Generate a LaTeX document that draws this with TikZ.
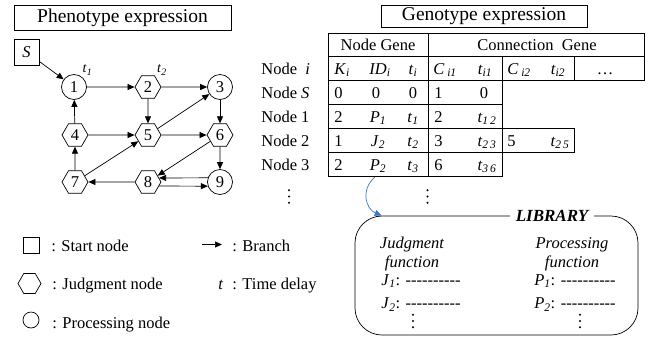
\documentclass[tikz,border=0pt]{standalone}
\usepackage{fontspec}
\setmainfont{Liberation Serif}
\usetikzlibrary{shapes.geometric,arrows.meta,calc}
\newcommand\fsz[1]{\fontsize{#1}{#1}\selectfont}
\newcommand\vsub[2]{\textit{#1}\textsubscript{\textit{#2}}}
\newcommand\dashline{-{}-{}-{}-{}-{}-{}-{}-{}-{}-}
\newcommand\vdotsat[2]{\foreach \k in {-6.3,0,6.3}{\fill (#1,#2+\k) circle (1.15pt);}}
\definecolor{arrblue}{RGB}{68,114,196}
\begin{document}
\begin{tikzpicture}[x=1pt,y=-1pt,line width=0.7pt,
  proc/.style={circle,draw,minimum size=25pt,inner sep=0pt,font=\fsz{16.5}},
  judg/.style={regular polygon,regular polygon sides=6,draw,minimum size=26pt,inner sep=0pt,font=\fsz{16.5}},
  arr/.style={-{Triangle[length=7pt,width=6pt]}},
  titlebox/.style={draw,inner sep=0pt,font=\fsz{19.5}},
  txt/.style={inner sep=0pt,font=\fsz{16.5},anchor=base west},
  cell/.style={inner sep=0pt,font=\fsz{16.5},anchor=base},
  cellw/.style={inner sep=0pt,font=\fsz{16.5},anchor=base west},
  libtxt/.style={inner sep=0pt,font=\fsz{16.5}\itshape,anchor=base},
  tlab/.style={inner sep=0pt,font=\fsz{14}},
]
\useasboundingbox (0,0) rectangle (654,341);

% ---------- Phenotype ----------
\node[titlebox,minimum width=217pt,minimum height=25pt] (pheno) at (122.5,17.5) {Phenotype expression};
\node[draw,minimum width=25pt,minimum height=26pt,inner sep=0pt,font=\fsz{16.5}\itshape] (S) at (26.5,52) {S};

\node[proc] (n1) at (74,87) {1};
\node[judg] (n2) at (148,87) {2};
\node[proc] (n3) at (220,87) {3};
\node[judg] (n4) at (75,135) {4};
\node[judg] (n5) at (148,135) {5};
\node[judg] (n6) at (220,135) {6};
\node[judg] (n7) at (75,182) {7};
\node[judg] (n8) at (148,182) {8};
\node[proc] (n9) at (220,182) {9};

\node[tlab] (t1) at (87.5,70) {\vsub{t}{1}};
\node[tlab] (t2) at (162,70) {\vsub{t}{2}};

\draw[arr] (S) -- (n1);
\draw[arr] (n1) -- (n2);
\draw[arr] (n2) -- (n3);
\draw[arr] (n2) -- (n5);
\draw[arr] (n3) -- (n6);
\draw[arr] (n4) -- (n1);
\draw[arr] (n4) -- (n5);
\draw[arr] (n5) -- (n3);
\draw[arr] (n5) -- (n6);
\draw[arr] (n6) -- (n8);
\draw[arr] (n6) -- (n9);
\draw[arr] (n7) -- (n4);
\draw[arr] (n7) -- (n5);
\draw[arr] (n8) -- (n7);
\draw[arr] (n9.161) -- (n8.20);
\draw[arr] (n8.-20) -- (n9.-161);

% ---------- Genotype ----------
\node[titlebox,minimum width=206pt,minimum height=22pt] (geno) at (484,16) {Genotype expression};

% table lines
\draw (328,33) rectangle (644,56);
\draw (328,56) rectangle (644,80);
\draw (502,56) -- (502,80);
\draw (574,56) -- (574,80);
\draw (328,80) rectangle (502,104);
\draw (328,104) rectangle (502,128);
\draw (328,128) rectangle (574,152);
\draw (502,128) -- (502,152);
\draw (328,152) rectangle (502,176);
\draw (428,33) -- (428,176);

\node[cell] (hng) at (378,50) {Node Gene};
\node[cell] (hcg) at (537,50) {Connection\ \ Gene};

% row labels
\node[txt] (ri) at (261,74) {Node\ \ \textit{i}};
\node[txt] (rS) at (261,98) {Node \textit{S}};
\node[txt] (r1) at (261,122) {Node 1};
\node[txt] (r2) at (261,146) {Node 2};
\node[txt] (r3) at (261,170) {Node 3};

% row i
\node[cellw] (ki) at (334,74) {\vsub{K}{i}};
\node[cell] (idi) at (380,74) {\vsub{ID}{i}};
\node[cell] (ti) at (413,74) {\vsub{t}{i}};
\node[cellw] (ci1) at (433,74) {\textit{C}\,\textsubscript{\textit{i1}}};
\node[cell] (ti1) at (485,74) {\vsub{t}{i1}};
\node[cellw] (ci2) at (507,74) {\textit{C}\,\textsubscript{\textit{i2}}};
\node[cell] (ti2) at (558,74) {\vsub{t}{i2}};
\node[cell] (dotsi) at (605,74) {\dots};
% row S
\node[cellw] (s1) at (334,98) {0};
\node[cell] (s2) at (376,98) {0};
\node[cell] (s3) at (413,98) {0};
\node[cellw] (s4) at (434,98) {1};
\node[cell] (s5) at (484,98) {0};
% row 1
\node[cellw] (a1) at (334,122) {2};
\node[cell] (a2) at (378,122) {\vsub{P}{1}};
\node[cell] (a3) at (413,122) {\vsub{t}{1}};
\node[cellw] (a4) at (434,122) {2};
\node[cell] (a5) at (487,122) {\vsub{t}{1\,2}};
% row 2
\node[cellw] (b1) at (334,146) {1};
\node[cell] (b2) at (378,146) {\vsub{J}{2}};
\node[cell] (b3) at (413,146) {\vsub{t}{2}};
\node[cellw] (b4) at (434,146) {3};
\node[cell] (b5) at (487,146) {\vsub{t}{2\,3}};
\node[cellw] (b6) at (507,146) {5};
\node[cell] (b7) at (560,146) {\vsub{t}{2\,5}};
% row 3
\node[cellw] (c1) at (334,170) {2};
\node[cell] (c2) at (378,170) {\vsub{P}{2}};
\node[cell] (c3) at (413,170) {\vsub{t}{3}};
\node[cellw] (c4) at (434,170) {6};
\node[cell] (c5) at (487,170) {\vsub{t}{3\,6}};

\vdotsat{289}{196.5}
\vdotsat{427.5}{196.5}

% ---------- Library ----------
\node[draw,rounded corners=27pt,minimum width=283pt,minimum height=119pt,inner sep=0pt] (lib) at (496.5,275.5) {};
\node[fill=white,inner xsep=6pt,inner ysep=1pt,font=\fsz{17}\bfseries\itshape] (libt) at (552,216) {LIBRARY};

\coordinate (bstart) at (375,177);
\coordinate (bend) at ($(lib.north west)+(27,0)$);
\draw[arrblue,-{Triangle[length=7pt,width=6pt]}] (bstart) .. controls (360,190) and (366,209) .. (bend);

\node[libtxt] (jf1) at (412,248) {Judgment};
\node[libtxt] (jf2) at (412,267.5) {function};
\node[libtxt] (pf1) at (572,248) {Processing};
\node[libtxt] (pf2) at (572,267.5) {function};
\node[txt] (j1) at (381,285) {\vsub{J}{1}: \dashline};
\node[txt] (j2) at (381,308.5) {\vsub{J}{2}: \dashline};
\node[txt] (p1) at (534,285) {\vsub{P}{1}: \dashline};
\node[txt] (p2) at (534,308.5) {\vsub{P}{2}: \dashline};
\vdotsat{413}{321}
\vdotsat{580}{321}

% ---------- Legend ----------
\node[draw,minimum size=16pt,inner sep=0pt] (lsq) at (31,245) {};
\node[txt] (lsqt) at (51,251.5) {: Start node};
\coordinate (la1) at (202,244.5);
\coordinate (la2) at (222,244.5);
\draw[arr] (la1) -- (la2);
\node[txt] (lbr) at (232,251.5) {: Branch};
\node[regular polygon,regular polygon sides=6,draw,minimum size=23pt,inner sep=0pt] (lhex) at (29.5,283.5) {};
\node[txt] (lhext) at (52,289.3) {: Judgment node};
\node[txt] (lt) at (218,289.3) {\textit{t}};
\node[txt] (ltt) at (232,289.3) {: Time delay};
\node[circle,draw,minimum size=16pt,inner sep=0pt] (lcir) at (31,320) {};
\node[txt] (lcirt) at (52,328.3) {: Processing node};
\end{tikzpicture}
\end{document}
